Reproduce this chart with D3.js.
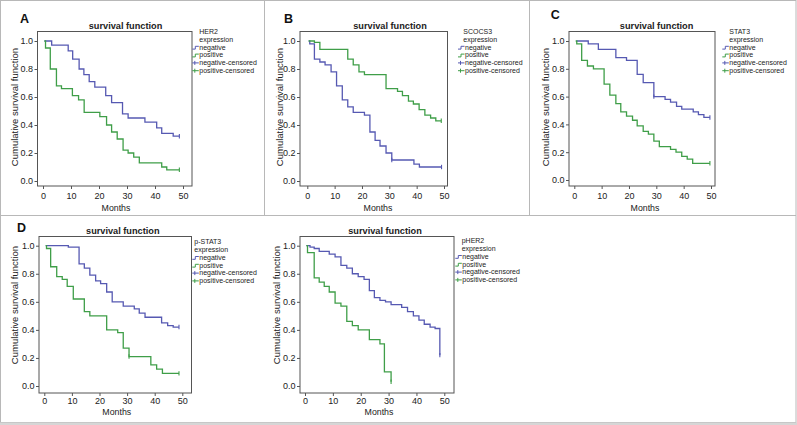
<!DOCTYPE html>
<html><head><meta charset="utf-8">
<script src="https://cdn.jsdelivr.net/npm/d3@7"></script>
<style>body{margin:0;background:#fff}svg{display:block;font-family:"Liberation Sans",Arial,sans-serif}</style>
</head><body>
<svg id="c" width="797" height="425"></svg>
<script>
// ---------- data ----------
const xTicks = [0, 10, 20, 30, 40, 50];
const yTicks = [0, 0.2, 0.4, 0.6, 0.8, 1.0];
const legendItems = ["negative", "positive", "negative-censored", "positive-censored"];
const panelLetters = ["A", "B", "C", "D", ""];
const markerNames = ["HER2", "SCOCS3", "STAT3", "p-STAT3", "pHER2"];
const groupWord = "expression";
const titleText = "survival function";
const xLabel = "Months";
const yLabel = "Cumulative survival function";

// step curves: [month, survival level from that month on]
const her2Neg = [[0.5,1.0],[3.1,0.97],[9.0,0.93],[10.6,0.87],[12.9,0.80],[14.6,0.76],[16.5,0.71],[18.5,0.67],[22.4,0.61],[24.5,0.56],[28.4,0.48],[30.4,0.45],[36.4,0.42],[40.6,0.38],[42.4,0.34],[46.5,0.32]];
const her2Pos = [[0.5,1.0],[0.9,0.95],[2.6,0.80],[4.8,0.68],[6.6,0.66],[10.5,0.61],[12.7,0.58],[14.7,0.49],[20.3,0.46],[22.7,0.40],[24.5,0.35],[26.5,0.30],[28.6,0.22],[30.4,0.20],[32.4,0.17],[34.4,0.13],[42.4,0.10],[44.2,0.08]];
const socsNeg = [[0.5,1.0],[0.9,0.98],[2.6,0.87],[4.6,0.85],[6.5,0.83],[8.7,0.78],[10.7,0.68],[12.8,0.58],[14.8,0.53],[16.8,0.49],[20.9,0.47],[22.9,0.35],[24.8,0.29],[26.6,0.25],[28.8,0.20],[30.9,0.15],[39.0,0.12],[41.0,0.10]];
const socsPos = [[0.5,1.0],[2.6,0.99],[4.6,0.94],[14.8,0.87],[16.8,0.83],[18.9,0.78],[20.9,0.76],[28.8,0.66],[33.0,0.64],[34.8,0.61],[37.0,0.57],[38.8,0.55],[40.9,0.51],[43.0,0.47],[45.1,0.45],[47.0,0.43]];
const stat3Neg = [[0.8,1.0],[5.1,0.98],[8.8,0.94],[15.2,0.88],[19.1,0.86],[23.0,0.76],[25.2,0.70],[29.1,0.60],[33.2,0.58],[35.2,0.56],[37.4,0.53],[39.3,0.51],[43.5,0.49],[45.4,0.47],[47.4,0.45]];
const stat3Pos = [[0.5,1.0],[0.9,0.98],[2.7,0.86],[4.8,0.82],[7.0,0.80],[10.9,0.69],[13.0,0.61],[15.2,0.55],[17.0,0.49],[19.1,0.46],[21.3,0.43],[23.0,0.39],[25.2,0.35],[27.1,0.33],[29.1,0.28],[31.1,0.24],[35.2,0.22],[37.2,0.20],[39.3,0.17],[41.3,0.15],[43.3,0.12]];
const pstatNeg = [[0.5,1.0],[8.7,0.99],[12.6,0.87],[14.5,0.84],[16.5,0.79],[18.6,0.75],[20.4,0.73],[22.6,0.67],[24.6,0.60],[28.6,0.57],[32.6,0.55],[34.4,0.52],[36.5,0.49],[42.5,0.45],[44.7,0.43],[46.7,0.42]];
const pstatPos = [[0.5,1.0],[0.8,0.98],[2.3,0.85],[4.5,0.78],[6.5,0.76],[8.3,0.71],[10.5,0.62],[14.5,0.53],[16.5,0.50],[22.6,0.40],[26.6,0.38],[28.6,0.27],[30.7,0.21],[38.6,0.15],[40.7,0.12],[42.8,0.09]];
const pherNeg = [[0.5,1.0],[1.8,0.99],[3.3,0.98],[5.1,0.96],[8.7,0.94],[10.8,0.92],[12.9,0.86],[15.0,0.84],[17.0,0.80],[19.1,0.78],[21.2,0.76],[23.1,0.68],[24.9,0.63],[26.9,0.61],[28.9,0.60],[30.9,0.58],[34.7,0.56],[36.8,0.53],[38.9,0.50],[40.9,0.47],[42.8,0.44],[44.9,0.42],[46.7,0.41],[48.4,0.22]];
const pherPos = [[0.5,1.0],[0.9,0.95],[3.3,0.77],[5.1,0.74],[6.9,0.71],[8.7,0.67],[10.8,0.59],[12.9,0.57],[15.0,0.46],[17.0,0.43],[19.1,0.40],[23.1,0.33],[26.9,0.30],[28.5,0.10],[30.9,0.03]];

const negEnd = [48.7, 49.1, 49.6, 48.8, 48.4];
const posEnd = [48.7, 49.0, 49.6, 48.8, 30.9];

const her2NegCens = [[48.7,0.32]];
const her2PosCens = [[48.7,0.08]];
const socsNegCens = [[30.9,0.15],[49.1,0.10]];
const socsPosCens = [[49.0,0.43]];
const stat3NegCens = [[29.1,0.60],[49.6,0.45]];
const stat3PosCens = [[49.6,0.12]];
const pstatNegCens = [[48.8,0.42]];
const pstatPosCens = [[30.7,0.21],[48.8,0.09]];
const pherNegCens = [[48.4,0.22]];
const pherPosCens = [[30.9,0.03]];

const negSeries = [her2Neg, socsNeg, stat3Neg, pstatNeg, pherNeg];
const posSeries = [her2Pos, socsPos, stat3Pos, pstatPos, pherPos];
const negCens = [her2NegCens, socsNegCens, stat3NegCens, pstatNegCens, pherNegCens];
const posCens = [her2PosCens, socsPosCens, stat3PosCens, pstatPosCens, pherPosCens];

// ---------- layout ----------
const NEG_COLOR = "#5659b2", POS_COLOR = "#3f9e48";
const layout = [
  {box:[37.5,31.5,192,186], xr:[43,183], yr:[181,41], title:[125.5,29], letter:[20,22.7], ylab:[15,107], legH:199.3, legI:199.3, legY:34, months:[116,210.5], tickY:199},
  {box:[300,31.5,447.5,186], xr:[307.3,444], yr:[181,41], title:[390,29], letter:[284,22.7], ylab:[280,107], legH:463.3, legI:465, legY:34, months:[378,210.5], tickY:199},
  {box:[569,31.5,715,186], xr:[574.3,711], yr:[180,41], title:[656.6,29], letter:[550.7,18.5], ylab:[546,107], legH:729.3, legI:729.3, legY:34, months:[645,210.5], tickY:199},
  {box:[39,236.5,191.5,393], xr:[44.3,182.3], yr:[386,245.7], title:[122.8,233.5], letter:[17,232.3], ylab:[15,305], legH:194.3, legI:199.3, legY:244.2, months:[116.8,415], tickY:403.5},
  {box:[300,236.5,454,393], xr:[305,444.3], yr:[386,245.7], title:[385,233.5], letter:[0,0], ylab:[276.7,305], legH:461.7, legI:462.3, legY:243.2, months:[379,415], tickY:403.5}
];

const svg = d3.select("#c");

// frame lines
svg.append("rect").attr("x",0.5).attr("y",0.5).attr("width",795.5).attr("height",422)
  .attr("fill","none").attr("stroke","#b8b8b8");
svg.append("rect").attr("x",0).attr("y",422.5).attr("width",797).attr("height",2.5).attr("fill","#d6d6d6");
svg.append("line").attr("x1",0).attr("x2",796).attr("y1",215.5).attr("y2",215.5).attr("stroke","#b8b8b8");
[264.5, 529.5].forEach(x => svg.append("line").attr("x1",x).attr("x2",x).attr("y1",0).attr("y2",215.5).attr("stroke","#b8b8b8"));

layout.forEach((L, i) => {
  const g = svg.append("g");
  const x = d3.scaleLinear().domain([0,50]).range(L.xr);
  const y = d3.scaleLinear().domain([0,1]).range(L.yr);
  const [bl, bt, br, bb] = L.box;

  // panel letter
  if (panelLetters[i]) g.append("text").attr("x",L.letter[0]).attr("y",L.letter[1])
    .attr("font-size",12.5).attr("font-weight","bold").attr("fill","#111").text(panelLetters[i]);

  // title
  g.append("text").attr("x",L.title[0]).attr("y",L.title[1]).attr("text-anchor","middle")
    .attr("font-size",9.2).attr("font-weight","bold").attr("fill","#222").text(titleText);

  // plot box
  g.append("rect").attr("x",bl).attr("y",bt).attr("width",br-bl).attr("height",bb-bt)
    .attr("fill","none").attr("stroke","#555").attr("stroke-width",1);

  // axes
  const yAxis = d3.axisLeft(y).tickValues(yTicks).tickFormat(d3.format(".1f")).tickSize(3).tickPadding(1.5);
  const ya = g.append("g").attr("transform",`translate(${bl},0)`).call(yAxis);
  ya.select(".domain").remove();
  ya.selectAll("text").attr("font-size",9).attr("fill","#222").attr("font-family","Liberation Sans, Arial, sans-serif");
  ya.selectAll("line").attr("stroke","#555");

  const xAxis = d3.axisBottom(x).tickValues(xTicks).tickSize(3).tickPadding(2);
  const xa = g.append("g").attr("transform",`translate(0,${bb})`).call(xAxis);
  xa.select(".domain").remove();
  xa.selectAll("text").attr("font-size",9).attr("fill","#222").attr("font-family","Liberation Sans, Arial, sans-serif")
    .attr("dy",null).attr("y",L.tickY - bb);
  xa.selectAll("line").attr("stroke","#555");

  // axis labels
  g.append("text").attr("transform",`translate(${L.ylab[0]},${L.ylab[1]}) rotate(-90)`)
    .attr("text-anchor","middle").attr("dy","0.35em").attr("font-size",9.5).attr("fill","#222").text(yLabel);
  g.append("text").attr("x",L.months[0]).attr("y",L.months[1]).attr("text-anchor","middle")
    .attr("font-size",8.8).attr("fill","#222").text(xLabel);

  // curves
  const line = d3.line().x(d => x(d[0])).y(d => y(d[1])).curve(d3.curveStepAfter);
  const drawCurve = (pts, end, cens, color) => {
    const full = pts.concat([[end, pts[pts.length-1][1]]]);
    g.append("path").datum(full).attr("d",line).attr("fill","none")
      .attr("stroke",color).attr("stroke-width",1.3);
    cens.forEach(c => {
      g.append("line").attr("x1",x(c[0])).attr("x2",x(c[0])).attr("y1",y(c[1])-2.2).attr("y2",y(c[1])+2.2)
        .attr("stroke",color).attr("stroke-width",1.1);
    });
  };
  drawCurve(negSeries[i], negEnd[i], negCens[i], NEG_COLOR);
  drawCurve(posSeries[i], posEnd[i], posCens[i], POS_COLOR);

  // legend
  const lg = g.append("g").attr("font-size",7).attr("fill","#222");
  const step = 7.8;
  lg.append("text").attr("x",L.legH).attr("y",L.legY).text(markerNames[i]);
  lg.append("text").attr("x",L.legH).attr("y",L.legY+step).text(groupWord);
  legendItems.forEach((name, k) => {
    const yy = L.legY + step*(k+2);
    const color = (k % 2 === 0) ? NEG_COLOR : POS_COLOR;
    lg.append("text").attr("x",L.legI).attr("y",yy).text(name);
    const sx = L.legI - 7, cy = yy - 2.3;
    if (k < 2) {
      lg.append("path").attr("d",`M${sx},${cy+1.8}H${sx+3}V${cy-1}H${sx+6.5}`)
        .attr("fill","none").attr("stroke",color).attr("stroke-width",1);
    } else {
      lg.append("line").attr("x1",sx).attr("x2",sx+6.5).attr("y1",cy).attr("y2",cy).attr("stroke",color).attr("stroke-width",1);
      lg.append("line").attr("x1",sx+2.5).attr("x2",sx+2.5).attr("y1",cy-2).attr("y2",cy+2).attr("stroke",color).attr("stroke-width",1);
    }
  });
});
</script>
</body></html>
